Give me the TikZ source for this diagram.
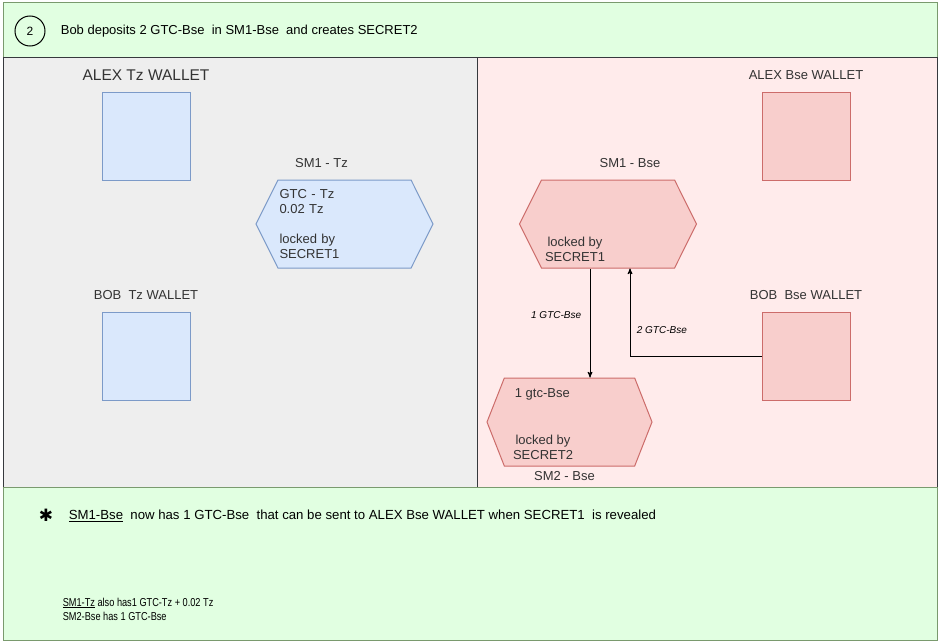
\documentclass[tikz,border=0pt]{standalone}
\usepackage{fontspec}
\setmainfont{Liberation Sans}
\newfontfamily\symbolfont{DejaVu Sans}
\newfontfamily\narrowfont{Liberation Sans}[FakeStretch=0.8]
\usetikzlibrary{arrows,shapes,positioning}
\definecolor{bandfill}{HTML}{E1FFE1}
\definecolor{bandline}{HTML}{7A9A6E}
\definecolor{tzpanel}{HTML}{EEEEEE}
\definecolor{bsepanel}{HTML}{FFEBEB}
\definecolor{panelline}{HTML}{36393D}
\definecolor{bluefill}{HTML}{DAE8FC}
\definecolor{blueline}{HTML}{7C9AC8}
\definecolor{redfill}{HTML}{F8CECC}
\definecolor{redline}{HTML}{CC6C6A}

\begin{document}
\begin{tikzpicture}[x=1pt,y=-1pt,>=stealth',line width=1pt,font=\fontsize{12}{15}\selectfont]
  \tikzset{wallet/.style={draw,minimum size=88pt,inner sep=0pt},
    tzwallet/.style={wallet,draw=blueline,fill=bluefill},
    bsewallet/.style={wallet,draw=redline,fill=redfill},
    contract/.style={signal,signal to=west and east,signal pointer angle=127,
      minimum width=177pt,minimum height=88pt,inner sep=0pt},
    caption/.style={font=\fontsize{13}{15}\selectfont,text=black!80},
    amount/.style={font=\fontsize{10}{12}\selectfont\itshape}}
  \useasboundingbox (0,0) rectangle (939,642);
  % bands and panels
  \draw[bandline,fill=bandfill] (3,3) rectangle (937,58);
  \draw[panelline,fill=tzpanel] (3,58) rectangle (477,487);
  \draw[panelline,fill=bsepanel] (477,58) rectangle (937,487);
  \draw[bandline,fill=bandfill] (3,487) rectangle (937,640);
  \node[draw,circle,minimum size=30pt,inner sep=0pt] (step) at (30,31) {2};
  \node[anchor=west,font=\fontsize{13}{15}\selectfont] (title) at (57,31) {Bob deposits 2 GTC-Bse\ \ in SM1-Bse\ \ and creates SECRET2};
  % wallets
  \node[tzwallet] (alextz) at (146,136) {};
  \node[tzwallet] (bobtz) at (146,356) {};
  \node[bsewallet] (alexbse) at (806,136) {};
  \node[bsewallet] (bobbse) at (806,356) {};
  \node[caption,font=\fontsize{15.5}{17}\selectfont,above=7pt of alextz] {ALEX Tz WALLET};
  \node[caption,above=8pt of bobtz] {BOB\ \ Tz WALLET};
  \node[caption,above=8pt of alexbse] {ALEX Bse WALLET};
  \node[caption,above=8pt of bobbse] {BOB\ \ Bse WALLET};
  % contracts
  \node[contract,draw=blueline,fill=bluefill] (sm1tz) at (344.5,224) {};
  \node[contract,draw=redline,fill=redfill] (sm1bse) at (608,224) {};
  \node[contract,draw=redline,fill=redfill,minimum width=165pt,
    signal pointer angle=137] (sm2bse) at (569.5,422) {};
  \node[caption,above=8pt of sm1tz,xshift=-23pt] {SM1 - Tz};
  \node[caption,above=8pt of sm1bse,xshift=22pt] {SM1 - Bse};
  \node[caption,below=1pt of sm2bse,xshift=-5pt] {SM2 - Bse};
  \node[caption,align=left,text width=130pt] at (sm1tz) {GTC - Tz\\0.02 Tz\\[15pt]locked by\\SECRET1};
  \node[caption,align=center,anchor=north] at (575,233) {locked by\\SECRET1};
  \node[caption,align=left,anchor=west] at (511,394) {1 gtc-Bse};
  \node[caption,align=center,anchor=north] at (543,431) {locked by\\SECRET2};
  % transfers
  \coordinate (drop) at (590,0);
  \coordinate (rise) at (630,0);
  \draw[->] (drop |- sm1bse.south) -- node[amount,left=5pt,pos=0.43] {1 GTC-Bse} (drop |- sm2bse.north);
  \draw[->] (bobbse.west) -| node[amount,right=3pt,pos=0.65] {2 GTC-Bse} (rise |- sm1bse.south);
  % notes
  \node[font=\symbolfont\fontsize{17}{17}\selectfont] (star) at (46,515) {✱};
  \node[anchor=west,font=\fontsize{13.2}{15}\selectfont] (note) at (65,516) {\underline{SM1-Bse}\ \ now has 1 GTC-Bse\ \ that can be sent to ALEX Bse WALLET when SECRET1\ \ is revealed};
  \node[anchor=north west,align=left,font=\narrowfont\fontsize{11.5}{14}\selectfont] (balances) at (59,594)
    {\underline{SM1-Tz} also has1 GTC-Tz + 0.02 Tz\\SM2-Bse has 1 GTC-Bse};
\end{tikzpicture}
\end{document}
